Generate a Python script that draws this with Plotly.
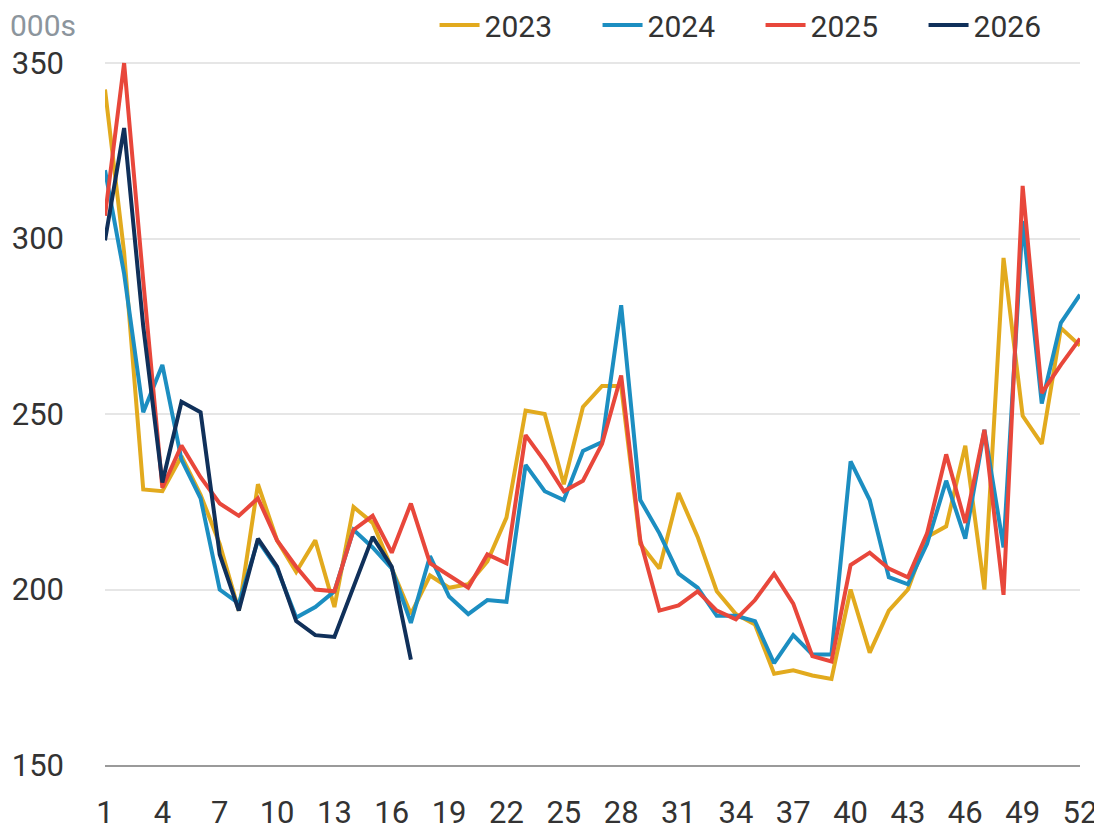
import plotly.graph_objects as go

weeks = list(range(1, 53))
weeks_2026 = list(range(1, 18))

y2023 = [342.5, 296, 228.5, 228, 238, 227, 213, 194, 230, 214,
         205, 214, 195, 223.5, 219, 206, 193, 204, 200.5, 201.5,
         208, 220.5, 251, 250, 230, 252, 258, 258, 213, 206,
         227.5, 215, 199.5, 193, 190, 176, 177, 175.5, 174.5, 200,
         182, 194, 200, 215, 218, 241, 200, 294.5, 249.5, 241.5,
         274.5, 269.5]
y2024 = [319.5, 290, 250.5, 264, 237, 226, 200, 196, 214, 206,
         192, 195, 199.5, 217, 212, 206, 190.5, 209.5, 198, 193,
         197, 196.5, 235.5, 228, 225.5, 239.5, 242, 281, 225.5, 216,
         204.5, 200.5, 192.5, 192.5, 191, 179, 187, 181.5, 181.5, 236.5,
         225.5, 203.5, 201.5, 213, 231, 214.5, 245.5, 212, 305, 253,
         276, 284]
y2025 = [306.5, 350, 288, 229, 241, 232, 224.5, 221, 226, 214,
         206.5, 200, 199.5, 217, 221, 210.5, 224.5, 207.5, 204, 200.5,
         210, 207.5, 244, 236.5, 228, 231, 241.5, 261, 214, 194,
         195.5, 199.5, 194, 191.5, 197, 204.5, 196, 181, 179.5, 207,
         210.5, 206, 203.5, 216, 238.5, 219, 245.5, 198.5, 315, 256,
         264, 271.5]
y2026 = [299.5, 331.5, 275, 230.5, 253.5, 250.5, 210, 194, 214.5, 206.5,
         191, 187, 186.5, 200.5, 215, 206.5, 180]

series = [
    ("2023", weeks, y2023, "#E2AA1E"),
    ("2024", weeks, y2024, "#1C8EC1"),
    ("2025", weeks, y2025, "#E8473B"),
    ("2026", weeks_2026, y2026, "#10305A"),
]

x_ticks = list(range(1, 53, 3))
y_ticks = [150, 200, 250, 300, 350]

FONT = "Roboto"

fig = go.Figure()
for name, xs, ys, col in series:
    fig.add_trace(go.Scatter(x=xs, y=ys, name=name, mode="lines",
                             line=dict(color=col, width=4)))

fig.update_layout(
    width=1094, height=827,
    margin=dict(l=97, r=22, t=53, b=70, autoexpand=False),
    paper_bgcolor="white", plot_bgcolor="white",
    font=dict(family=FONT, size=30, color="#333333"),
    showlegend=True,
    legend=dict(orientation="h", x=0.338, xanchor="left", y=1.051, yanchor="middle",
                font=dict(family=FONT, size=30, color="#333333"),
                bgcolor="rgba(0,0,0,0)", itemwidth=40, entrywidth=108),
    xaxis=dict(range=[1, 52], tickmode="array", tickvals=x_ticks,
               ticktext=[str(v) for v in x_ticks], showgrid=False,
               showline=True, linecolor="#9a9a9a", linewidth=2,
               ticks="", ticklabelstandoff=19, zeroline=False, automargin=False,
               tickfont=dict(family=FONT, size=31, color="#333333")),
    yaxis=dict(range=[150, 350.6], tickmode="array", tickvals=y_ticks,
               ticktext=[str(v) for v in y_ticks], showgrid=True,
               gridcolor="#e6e6e6", gridwidth=1.5, zeroline=False, automargin=False,
               ticks="", ticklabelstandoff=40,
               tickfont=dict(family=FONT, size=31, color="#333333")),
    annotations=[dict(text="000s", xref="paper", yref="paper", x=-0.1, xanchor="left",
                      y=1.051, yanchor="middle", showarrow=False,
                      font=dict(family=FONT, size=30, color="#8C959D"))],
)

fig.write_html("out.html")
